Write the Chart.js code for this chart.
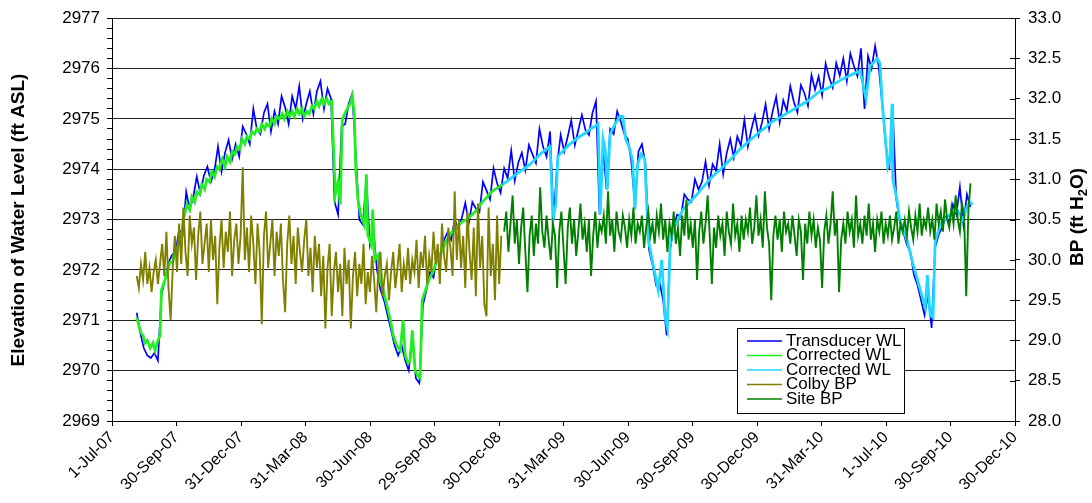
<!DOCTYPE html>
<html>
<head>
<meta charset="utf-8">
<script src="https://cdn.jsdelivr.net/npm/chart.js@4.4.1/dist/chart.umd.min.js"></script>
<style>
  html, body { margin: 0; padding: 0; background: #fff; }
  #wrap { width: 1092px; height: 503px; position: relative; }
</style>
</head>
<body>
<div id="wrap"><canvas id="wlChart"></canvas></div>
<script>
// x values are days since 1-Jul-07
const xTickLabels = ['1-Jul-07', '30-Sep-07', '31-Dec-07', '31-Mar-08', '30-Jun-08', '29-Sep-08', '30-Dec-08',
  '31-Mar-09', '30-Jun-09', '30-Sep-09', '30-Dec-09', '31-Mar-10', '1-Jul-10', '30-Sep-10', '30-Dec-10'];
const xSpanDays = 1278;

const seriesNames = ['Transducer WL', 'Corrected WL', 'Corrected WL', 'Colby BP', 'Site BP'];
const seriesColors = ['#0000ff', '#22ee22', '#22d8ff', '#808000', '#008000'];

// Transducer WL, one reading every 5 days from day 35
const transducerStart = 35, transducerStep = 5;
const transducerWL = [
  2971.15, 2970.75, 2970.45, 2970.3, 2970.25, 2970.35, 2970.2, 2971.5, 2971.8, 2972.15,
  2972.3, 2972.35, 2972.8, 2972.7, 2973.55, 2973.2, 2973.45, 2973.85, 2973.52, 2973.87,
  2974.05, 2973.75, 2973.97, 2974.45, 2973.95, 2974.33, 2974.58, 2974.2, 2974.5, 2974.25,
  2974.85, 2974.7, 2974.5, 2975.2, 2974.8, 2974.7, 2975.12, 2975.3, 2974.75, 2975.15,
  2974.9, 2975.45, 2975.23, 2974.9, 2975.45, 2975.2, 2975.65, 2975.0, 2975.3, 2975.55,
  2975.1, 2975.55, 2975.75, 2975.2, 2975.6, 2975.4, 2973.35, 2973.1, 2974.85, 2974.9,
  2975.3, 2975.5, 2974.3, 2973.0, 2972.9, 2973.8, 2972.5, 2972.8, 2972.0, 2971.6,
  2971.4, 2971.1, 2970.8, 2970.5, 2970.3, 2970.5, 2970.2, 2970.0, 2970.7, 2969.85,
  2969.75, 2971.3, 2971.6, 2971.95, 2971.85, 2972.3, 2972.25, 2972.6, 2972.75, 2972.6,
  2973.0, 2972.82, 2973.03, 2973.33, 2972.93, 2973.35, 2973.22, 2973.15, 2973.75, 2973.58,
  2973.4, 2974.02, 2973.72, 2973.53, 2974.02, 2973.82, 2974.37, 2973.77, 2974.13, 2974.33,
  2973.98, 2974.48, 2974.3, 2974.12, 2974.8, 2974.45, 2974.25, 2974.75, 2973.0, 2974.1,
  2974.68, 2974.35, 2974.65, 2974.97, 2974.48, 2974.78, 2975.08, 2974.78, 2974.68, 2975.12,
  2975.35, 2973.1, 2974.4, 2973.6, 2974.8, 2974.7, 2975.15, 2974.95, 2974.7, 2974.6,
  2974.15, 2973.3, 2974.35, 2974.5, 2974.1, 2972.4, 2972.1, 2971.7, 2971.75, 2971.4,
  2970.7, 2972.4, 2972.9, 2973.1, 2973.05, 2973.5, 2973.4, 2973.35, 2973.8, 2973.6,
  2973.75, 2974.15, 2973.68, 2974.1, 2973.97, 2974.5, 2973.9, 2974.32, 2974.6, 2974.23,
  2974.65, 2974.47, 2974.98, 2974.45, 2974.8, 2975.07, 2974.67, 2974.93, 2975.29, 2974.8,
  2975.15, 2975.44, 2974.93, 2975.37, 2975.16, 2975.65, 2975.34, 2975.13, 2975.67, 2975.51,
  2975.26, 2975.87, 2975.58, 2975.84, 2975.47, 2976.1, 2975.82, 2975.62, 2976.11, 2975.86,
  2976.2, 2975.75, 2976.3, 2976.05, 2975.85, 2976.4, 2975.2, 2976.25, 2976.0, 2976.45,
  2976.05, 2975.3, 2974.5, 2974.0, 2975.2, 2973.4, 2972.95, 2972.75, 2972.5, 2972.35,
  2971.9, 2971.7, 2971.4, 2971.1, 2971.5, 2970.85, 2972.45, 2972.7, 2972.85, 2973.05,
  2972.95, 2973.3, 2973.1, 2973.65, 2972.9, 2973.5, 2973.25
];

// Corrected WL with Colby BP (green)
const greenDays = [
  35, 41, 44, 47, 50, 54, 58, 61, 65, 68,
  70, 75, 79, 82, 86, 89, 93, 96, 99, 101,
  106, 110, 113, 117, 120, 124, 127, 131, 134, 138,
  141, 145, 149, 152, 156, 160, 163, 167, 170, 174,
  177, 181, 184, 188, 191, 195, 198, 202, 205, 209,
  212, 216, 219, 223, 226, 230, 233, 237, 241, 244,
  248, 251, 255, 258, 262, 265, 269, 272, 276, 279,
  283, 286, 290, 293, 297, 300, 304, 307, 311, 316,
  320, 323, 326, 331, 337, 340, 343, 345, 348, 352,
  357, 360, 362, 367, 369, 372, 377, 379, 384, 389,
  394, 398, 403, 408, 412, 415, 419, 422, 425, 429,
  433, 436, 439, 446, 450, 454, 459, 464, 469, 474,
  481, 488, 495, 502, 510, 517, 524, 531, 537, 542,
  548, 553
];
const greenWL = [
  2971.05, 2970.75, 2970.7, 2970.55, 2970.6, 2970.45, 2970.55, 2970.4, 2970.6, 2970.7,
  2971.6, 2971.8, 2972.0, 2972.15, 2972.15, 2972.4, 2972.45, 2972.6, 2972.75, 2973.0,
  2973.3, 2973.2, 2973.45, 2973.35, 2973.55, 2973.5, 2973.7, 2973.6, 2973.8, 2973.75,
  2973.95, 2973.85, 2974.05, 2974.0, 2974.2, 2974.05, 2974.25, 2974.15, 2974.35, 2974.3,
  2974.45, 2974.4, 2974.6, 2974.5, 2974.65, 2974.6, 2974.75, 2974.7, 2974.8, 2974.75,
  2974.9, 2974.8, 2974.9, 2974.85, 2975.0, 2974.9, 2975.05, 2975.0, 2975.1, 2975.0,
  2975.15, 2975.05, 2975.15, 2975.05, 2975.2, 2975.1, 2975.2, 2975.05, 2975.15, 2975.1,
  2975.25, 2975.2, 2975.35, 2975.25, 2975.4, 2975.3, 2975.4, 2975.3, 2975.35, 2973.5,
  2973.75, 2973.3, 2975.0, 2975.15, 2975.3, 2975.45, 2975.1, 2974.0, 2973.4, 2973.1,
  2972.9, 2973.9, 2972.7, 2972.5, 2973.2, 2972.2, 2972.3, 2971.8, 2971.6, 2971.3,
  2971.0, 2970.7, 2970.5, 2970.4, 2971.0, 2970.3, 2970.15, 2970.2, 2970.8, 2970.0,
  2969.9, 2969.85, 2971.4, 2971.7, 2971.85, 2971.95, 2972.15, 2972.3, 2972.45, 2972.6,
  2972.75, 2972.85, 2972.95, 2973.0, 2973.1, 2973.2, 2973.35, 2973.45, 2973.55, 2973.6,
  2973.65, 2973.7
];

// Corrected WL with Site BP (cyan)
const cyanDays = [
  553, 563, 570, 577, 585, 592, 599, 606, 613, 620,
  624, 628, 631, 636, 641, 648, 655, 662, 670, 677,
  683, 688, 691, 695, 698, 701, 705, 712, 719, 723,
  727, 733, 737, 740, 744, 749, 754, 759, 766, 773,
  778, 783, 786, 790, 794, 801, 808, 818, 828, 837,
  846, 855, 865, 877, 889, 901, 913, 924, 935, 948,
  960, 972, 984, 993, 1002, 1012, 1023, 1035, 1047, 1059,
  1067, 1073, 1078, 1083, 1087, 1090, 1094, 1098, 1101, 1104,
  1105, 1111, 1115, 1120, 1125, 1134, 1144, 1151, 1154, 1158,
  1162, 1165, 1172, 1179, 1186, 1196, 1204, 1210, 1214, 1218
];
const cyanWL = [
  2973.7, 2973.8, 2973.88, 2973.95, 2974.03, 2974.1, 2974.2, 2974.3, 2974.38, 2974.45,
  2973.0, 2973.3, 2974.25, 2974.33, 2974.4, 2974.5, 2974.58, 2974.65, 2974.72, 2974.8,
  2974.85, 2974.9, 2973.1, 2974.6, 2974.4, 2973.6, 2974.7, 2974.9, 2975.05, 2975.05,
  2974.6, 2974.4, 2974.15, 2973.2, 2974.1, 2974.3, 2974.2, 2972.6, 2972.1, 2971.6,
  2972.2, 2971.05, 2970.85, 2972.5, 2972.8, 2973.0, 2973.2, 2973.35, 2973.5, 2973.65,
  2973.8, 2973.92, 2974.05, 2974.22, 2974.4, 2974.55, 2974.7, 2974.82, 2974.95, 2975.05,
  2975.15, 2975.25, 2975.35, 2975.45, 2975.55, 2975.6, 2975.7, 2975.8, 2975.88, 2975.95,
  2975.4, 2976.05, 2976.12, 2976.2, 2976.1, 2975.35, 2974.7, 2974.05, 2974.2, 2975.3,
  2973.8, 2973.4, 2973.0, 2972.8, 2972.6, 2972.1, 2971.6, 2971.25, 2971.9, 2971.1,
  2971.05, 2972.55, 2972.9, 2973.0, 2973.1, 2973.2, 2973.0, 2973.25, 2973.35, 2973.3
];

// Colby BP (ft H2O), one reading every 3 days from day 35
const colbyStart = 35, colbyStep = 3;
const colbyBP = [
  29.8, 29.65, 29.95, 29.75, 30.1, 29.7, 29.9, 29.6, 29.85, 30.0,
  29.7, 29.95, 30.2, 29.8, 30.35, 29.65, 29.25, 29.9, 30.3, 29.85,
  30.45, 29.95, 30.65, 30.1, 29.8, 30.55, 30.2, 30.4, 29.75, 30.3,
  30.6, 29.95, 30.2, 30.45, 29.85, 30.5, 30.0, 30.3, 29.45, 30.15,
  30.5, 29.9, 30.35, 30.1, 30.6, 29.8, 30.25, 30.45, 29.95, 30.3,
  31.15, 30.0, 30.4, 29.85, 30.55, 30.2, 29.7, 30.45, 30.1, 29.2,
  30.3, 30.6, 29.9, 30.2, 30.5, 29.8, 30.35, 30.05, 30.45, 29.75,
  29.35, 30.2, 30.55, 29.95, 30.3, 29.7, 30.4, 30.1, 29.85, 30.25,
  30.5, 29.8, 30.15, 29.6, 30.3, 29.9, 30.2, 29.55, 30.05, 29.15,
  29.9, 30.2, 29.3, 29.85, 30.1, 29.6, 29.95, 29.3, 30.15, 29.7,
  30.0, 29.15, 29.8, 30.1, 29.55, 29.95, 29.7, 30.2, 29.45, 29.85,
  29.6, 30.05, 29.75, 29.35, 29.9, 30.1, 29.55, 29.8, 29.95, 29.5,
  29.85, 30.1, 29.65, 29.9, 30.2, 29.6, 29.95, 29.75, 30.15, 29.7,
  30.0, 29.85, 30.25, 29.65, 30.1, 29.9, 30.3, 29.7, 30.05, 29.85,
  30.35, 29.95, 30.2, 29.7, 30.45, 30.05, 29.85, 30.4, 30.15, 29.8,
  30.85, 30.0, 30.5, 29.9, 30.3, 29.65, 30.6, 30.1, 29.75, 30.4,
  29.55, 30.7, 29.9, 30.3, 29.45, 29.3, 30.65, 29.8, 30.2, 29.5,
  30.55, 29.7, 30.3
];

// Site BP (ft H2O), one reading every 3 days from day 555
const siteStart = 555, siteStep = 3;
const siteBP = [
  30.35, 30.6, 30.1, 30.45, 30.8, 30.2, 30.5, 29.95, 30.4, 30.65,
  30.1, 29.6, 30.3, 30.55, 30.05, 30.45, 30.2, 30.9, 30.35, 30.15,
  30.55, 30.25, 30.0, 30.45, 30.3, 29.65, 30.35, 30.6, 30.15, 29.7,
  30.4, 30.65, 30.2, 30.5, 30.05, 30.35, 30.7, 30.25, 30.45, 30.1,
  30.5, 29.8, 30.3, 30.6, 30.15, 30.45, 30.35, 30.55, 30.2, 30.85,
  30.3, 30.5, 30.1, 30.6, 30.35, 30.25, 30.55, 30.4, 30.15, 30.5,
  30.3, 30.65, 30.2, 30.45, 30.35, 30.55, 30.15, 30.4, 30.6, 30.3,
  30.45, 30.2, 30.55, 30.35, 30.7, 30.25, 30.5, 30.1, 30.45, 30.3,
  30.6, 30.2, 30.4, 30.05, 30.55, 30.3, 30.75, 30.25, 30.45, 30.15,
  30.5, 29.75, 30.35, 30.6, 30.2, 30.45, 30.8, 30.3, 29.7, 30.4,
  30.15, 30.55, 30.3, 30.45, 30.05, 30.6, 30.35, 30.2, 30.7, 30.3,
  30.45, 30.1, 30.55, 30.25, 30.5, 30.35, 30.65, 30.2, 30.4, 30.8,
  30.3, 30.5, 30.15, 30.85, 30.4, 30.2, 29.5, 30.3, 30.55, 30.25,
  30.5, 30.1, 30.6, 30.35, 30.45, 30.2, 30.55, 30.3, 30.05, 30.5,
  30.35, 29.75, 30.45, 30.2, 30.6, 30.3, 30.5, 30.15, 30.4, 30.25,
  29.65, 30.35, 30.55, 30.2, 30.45, 30.85, 30.3, 30.5, 29.6, 30.25,
  30.45, 30.2, 30.6, 30.35, 30.5, 30.15, 30.8, 30.3, 30.45, 30.2,
  30.55, 30.3, 30.7, 30.25, 30.45, 30.1, 30.5, 30.35, 30.6, 30.2,
  30.45, 30.3, 30.55, 30.25, 30.4, 30.6, 30.2, 30.45, 30.35, 30.5,
  30.3, 30.6, 30.4, 30.25, 30.55, 30.35, 30.7, 30.3, 30.5, 30.4,
  30.65, 30.35, 30.5, 30.25, 30.7, 30.45, 30.6, 30.35, 30.75, 30.5,
  30.4, 30.65, 30.45, 30.8, 30.5, 30.35, 30.7, 30.55, 29.55, 30.6,
  30.95
];

function paired(days, vals) {
  return vals.map((v, i) => ({ x: days[i], y: v }));
}
function stepped(start, step, vals) {
  return vals.map((v, i) => ({ x: start + i * step, y: v }));
}

const FONT = "'Liberation Sans', Arial, sans-serif";

// axis titles, inner ticks on the right axis, and the boxed legend
const decor = {
  id: 'decor',
  afterDraw(chart) {
    const ctx = chart.ctx;
    const area = chart.chartArea;
    const y2 = chart.scales.y2;
    ctx.save();
    ctx.strokeStyle = '#000';
    ctx.lineWidth = 1;
    y2.ticks.forEach(t => {
      const y = Math.round(y2.getPixelForValue(t.value)) + 0.5;
      ctx.beginPath();
      ctx.moveTo(area.right - 5, y);
      ctx.lineTo(area.right, y);
      ctx.stroke();
    });

    ctx.fillStyle = '#000';
    ctx.textBaseline = 'middle';
    ctx.textAlign = 'center';
    ctx.font = 'bold 19px ' + FONT;
    ctx.save();
    ctx.translate(19, 220);
    ctx.rotate(-Math.PI / 2);
    ctx.fillText('Elevation of Water Level (ft ASL)', 0, 0);
    ctx.restore();

    // BP (ft H2O) with a subscript 2
    ctx.save();
    ctx.translate(1078, 217);
    ctx.rotate(-Math.PI / 2);
    ctx.textAlign = 'left';
    const big = 'bold 19px ' + FONT, small = 'bold 13px ' + FONT;
    ctx.font = big;
    const w1 = ctx.measureText('BP (ft H').width;
    const w3 = ctx.measureText('O)').width;
    ctx.font = small;
    const w2 = ctx.measureText('2').width;
    let x = -(w1 + w2 + w3) / 2;
    ctx.font = big;
    ctx.fillText('BP (ft H', x, 0);
    x += w1;
    ctx.font = small;
    ctx.fillText('2', x, 5);
    x += w2;
    ctx.font = big;
    ctx.fillText('O)', x, 0);
    ctx.restore();

    // legend box
    const lx = 737, ly = 328, lw = 167, lh = 85;
    ctx.fillStyle = '#fff';
    ctx.fillRect(lx, ly, lw, lh);
    ctx.strokeStyle = '#000';
    ctx.strokeRect(lx + 0.5, ly + 0.5, lw, lh);
    ctx.font = '17px ' + FONT;
    ctx.textAlign = 'left';
    seriesNames.forEach((name, i) => {
      const y = ly + 13 + i * 14.5;
      ctx.strokeStyle = seriesColors[i];
      ctx.lineWidth = 1.5;
      ctx.beginPath();
      ctx.moveTo(lx + 10, y);
      ctx.lineTo(lx + 45, y);
      ctx.stroke();
      ctx.fillStyle = '#000';
      ctx.fillText(name, lx + 49, y);
    });
    ctx.restore();
  }
};

const isMajor = v => Math.abs(v - Math.round(v)) < 1e-6;

new Chart(document.getElementById('wlChart'), {
  type: 'line',
  data: {
    datasets: [
      { label: seriesNames[0], data: stepped(transducerStart, transducerStep, transducerWL),
        borderColor: seriesColors[0], borderWidth: 1.7, yAxisID: 'y', order: 5 },
      { label: seriesNames[1], data: paired(greenDays, greenWL),
        borderColor: seriesColors[1], borderWidth: 2.8, yAxisID: 'y', order: 4 },
      { label: seriesNames[2], data: paired(cyanDays, cyanWL),
        borderColor: seriesColors[2], borderWidth: 2.8, yAxisID: 'y', order: 3 },
      { label: seriesNames[3], data: stepped(colbyStart, colbyStep, colbyBP),
        borderColor: seriesColors[3], borderWidth: 1.9, yAxisID: 'y2', order: 2 },
      { label: seriesNames[4], data: stepped(siteStart, siteStep, siteBP),
        borderColor: seriesColors[4], borderWidth: 1.9, yAxisID: 'y2', order: 1 }
    ]
  },
  options: {
    responsive: true,
    maintainAspectRatio: false,
    animation: false,
    events: [],
    layout: { padding: { top: 14, left: 0, right: 0, bottom: 0 } },
    elements: { point: { radius: 0 }, line: { tension: 0, fill: false } },
    plugins: { legend: { display: false }, tooltip: { enabled: false } },
    scales: {
      x: {
        type: 'linear',
        min: 0,
        max: xSpanDays,
        afterBuildTicks: s => {
          s.ticks = xTickLabels.map((_, i) => ({ value: i * xSpanDays / (xTickLabels.length - 1) }));
        },
        afterFit: s => { s.height = 82; },
        ticks: {
          autoSkip: false,
          minRotation: 45,
          maxRotation: 45,
          color: '#000',
          font: { family: FONT, size: 16 },
          padding: 2,
          callback: (v, i) => xTickLabels[i]
        },
        grid: { drawOnChartArea: false, color: '#000', tickLength: 5 },
        border: { color: '#000', width: 1 }
      },
      y: {
        position: 'left',
        min: 2969,
        max: 2977,
        afterBuildTicks: s => {
          const t = [];
          for (let k = 0; k <= 40; k++) t.push({ value: 2969 + k * 0.2 });
          s.ticks = t;
        },
        afterFit: s => { s.width = 112; },
        ticks: {
          autoSkip: false,
          color: '#000',
          font: { family: FONT, size: 17 },
          padding: 7,
          callback: v => isMajor(v) ? String(Math.round(v)) : ''
        },
        grid: {
          color: c => isMajor(c.tick.value) ? '#222' : 'rgba(0,0,0,0)',
          tickColor: '#000',
          tickLength: 5,
          lineWidth: 1
        },
        border: { color: '#000', width: 1 }
      },
      y2: {
        position: 'right',
        min: 28,
        max: 33,
        afterFit: s => { s.width = 77; },
        ticks: {
          stepSize: 0.5,
          color: '#000',
          font: { family: FONT, size: 17 },
          padding: 8,
          callback: v => Number(v).toFixed(1)
        },
        grid: { drawOnChartArea: false, color: '#000', tickLength: 5 },
        border: { color: '#000', width: 1 }
      }
    }
  },
  plugins: [decor]
});
</script>
</body>
</html>
